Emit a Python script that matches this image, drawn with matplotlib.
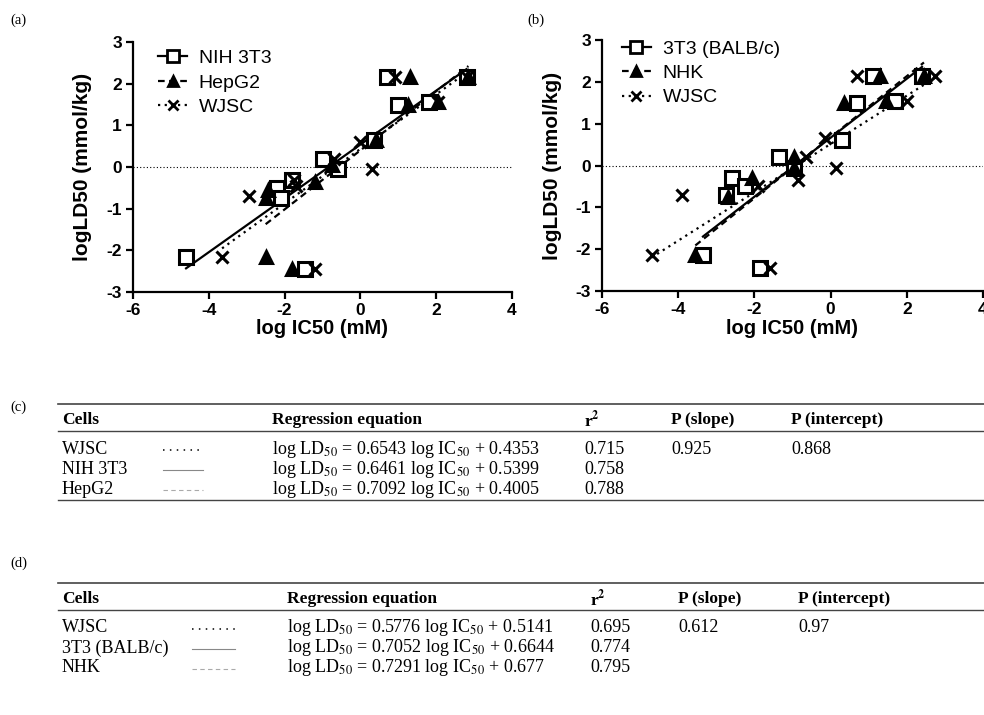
import numpy as np
import matplotlib
matplotlib.use('Agg')
import matplotlib.pyplot as plt
from matplotlib.lines import Line2D

plt.rcParams['font.family'] = 'Liberation Sans'
plt.rcParams['mathtext.fontset'] = 'stix'
plt.rcParams['axes.unicode_minus'] = False

# ---- panel (a) data: log IC50 (mM) vs log LD50 (mmol/kg)
nih_x = [-4.6, -2.2, -2.1, -1.8, -1.45, -1.0, -0.6, 0.35, 0.7, 1.0, 1.8, 2.8]
nih_y = [-2.15, -0.5, -0.75, -0.3, -2.45, 0.2, -0.05, 0.65, 2.15, 1.5, 1.55, 2.15]
hep_x = [-2.5, -2.45, -2.5, -1.8, -1.2, -0.75, 0.4, 1.25, 1.3, 2.05, 2.85]
hep_y = [-0.75, -0.55, -2.15, -2.45, -0.35, 0.05, 0.65, 1.5, 2.15, 1.55, 2.15]
wja_x = [-3.65, -2.95, -1.75, -1.7, -1.2, -0.7, 0.0, 0.3, 0.9, 2.05, 2.8]
wja_y = [-2.15, -0.7, -0.3, -0.45, -2.45, 0.2, 0.6, -0.05, 2.15, 1.55, 2.15]

# ---- panel (b) data
balb_x = [-3.35, -2.75, -2.6, -2.25, -1.85, -1.35, -0.95, 0.3, 0.7, 1.1, 1.7, 2.4]
balb_y = [-2.15, -0.7, -0.3, -0.5, -2.45, 0.2, -0.05, 0.6, 1.5, 2.15, 1.55, 2.15]
nhk_x = [-3.55, -2.7, -2.05, -0.95, -0.95, 0.35, 1.3, 1.45, 2.45]
nhk_y = [-2.15, -0.75, -0.3, 0.2, -0.05, 1.5, 2.15, 1.55, 2.15]
wjb_x = [-4.7, -3.9, -1.9, -1.6, -0.85, -0.65, -0.15, 0.15, 0.7, 2.0, 2.75]
wjb_y = [-2.15, -0.7, -0.5, -2.45, -0.35, 0.2, 0.65, -0.05, 2.15, 1.55, 2.15]

# ---- regression results (tables c and d)
cells_c = ['WJSC', 'NIH 3T3', 'HepG2']
slope_c = [0.6543, 0.6461, 0.7092]
icpt_c = ['0.4353', '0.5399', '0.4005']
r2_c = ['0.715', '0.758', '0.788']
pslope_c = '0.925'
picpt_c = '0.868'

cells_d = ['WJSC', '3T3 (BALB/c)', 'NHK']
slope_d = [0.5776, 0.7052, 0.7291]
icpt_d = ['0.5141', '0.6644', '0.677']
r2_d = ['0.695', '0.774', '0.795']
pslope_d = '0.612'
picpt_d = '0.97'

DASH = (0, (3, 2))
DOT = (0, (1, 2))

fig = plt.figure(figsize=(9.84, 7.15), dpi=100)


def panel(ax, series, legend_xy):
    ax.axhline(0, color='black', lw=0.8, ls=(0, (1, 2)), zorder=0)
    handles = []
    for xs, ys, sl, ic, name, mk, ls, mfc, ms in series:
        xs = np.array(xs)
        ax.plot(xs, ys, ls='none', marker=mk, ms=ms, mfc=mfc, mec='black',
                mew=2.2, color='black', zorder=3)
        xl = np.array([xs.min(), xs.max()])
        ax.plot(xl, sl * xl + float(ic), color='black', lw=1.6, ls=ls, zorder=2)
        handles.append(Line2D([], [], color='black', lw=1.6, ls=ls, marker=mk,
                              ms=ms * 0.85, mfc=mfc, mec='black', mew=2.0, label=name))
    ax.set_xlim(-6, 4)
    ax.set_ylim(-3, 3)
    ax.set_xticks([-6, -4, -2, 0, 2, 4])
    ax.set_yticks([-3, -2, -1, 0, 1, 2, 3])
    for s in ['top', 'right']:
        ax.spines[s].set_visible(False)
    for s in ['left', 'bottom']:
        ax.spines[s].set_linewidth(1.6)
    ax.tick_params(width=1.6, length=5, pad=3, labelsize=12.5)
    for lab in ax.get_xticklabels() + ax.get_yticklabels():
        lab.set_fontweight('bold')
    ax.set_xlabel('log IC50 (mM)', fontsize=14.5, fontweight='bold', labelpad=1)
    ax.set_ylabel('logLD50 (mmol/kg)', fontsize=15, fontweight='bold', labelpad=10)
    ax.legend(handles=handles, loc='upper left', bbox_to_anchor=legend_xy,
              frameon=False, fontsize=14, handlelength=1.5, handletextpad=0.6,
              labelspacing=0.35, borderpad=0, borderaxespad=0)
    ax.patch.set_visible(False)


ax_a = fig.add_axes([133 / 984, 1 - 292 / 715, 379 / 984, 250 / 715])
panel(ax_a, [
    (nih_x, nih_y, slope_c[1], icpt_c[1], 'NIH 3T3', 's', '-', 'white', 10),
    (hep_x, hep_y, slope_c[2], icpt_c[2], 'HepG2', '^', DASH, 'black', 9),
    (wja_x, wja_y, slope_c[0], icpt_c[0], 'WJSC', 'x', DOT, 'black', 9),
], (0.066, 0.97))

ax_b = fig.add_axes([602 / 984, 1 - 291 / 715, 381 / 984, 251 / 715])
panel(ax_b, [
    (balb_x, balb_y, slope_d[1], icpt_d[1], '3T3 (BALB/c)', 's', '-', 'white', 10),
    (nhk_x, nhk_y, slope_d[2], icpt_d[2], 'NHK', '^', DASH, 'black', 9),
    (wjb_x, wjb_y, slope_d[0], icpt_d[0], 'WJSC', 'x', DOT, 'black', 9),
], (0.052, 1.0))

# ---- tables drawn in pixel coordinates
tab = fig.add_axes([0, 0, 1, 1], zorder=-1)
tab.set_xlim(0, 984)
tab.set_ylim(715, 0)
tab.axis('off')

serif = 'Liberation Serif'
tab.text(10, 20, '(a)', fontsize=10.5, family=serif, va='center')
tab.text(527, 20, '(b)', fontsize=10.5, family=serif, va='center')


def table(y0, label, label_y, cells, slopes, icpts, r2s, psl, pic, cols, samp):
    tab.text(10, label_y, label, fontsize=10.5, family=serif, va='center')
    tab.plot([58, 984], [y0, y0], color='#444444', lw=1.2)
    hy = y0 + 16
    heads = ['Cells', 'Regression equation', r'r$^{\mathbf{2}}$', 'P (slope)', 'P (intercept)']
    for hx, h in zip([62] + cols, heads):
        tab.text(hx, hy, h, fontsize=12.5, family=serif, fontweight='bold', va='center')
    tab.plot([58, 984], [hy + 11, hy + 11], color='#444444', lw=1.0)
    styles = [((0, (1, 3.5)), 'black', 1.1), ('-', '#888888', 0.8),
              ((0, (4, 3)), '#aaaaaa', 0.8)]
    for i, c in enumerate(cells):
        ry = hy + 29 + 20 * i
        tab.text(62, ry, c, fontsize=13, family=serif, va='center')
        ls, col, lw = styles[i]
        tab.plot(samp, [ry + 1, ry + 1], ls=ls, color=col, lw=lw)
        eq = r'log LD$_{50}$ = %s log IC$_{50}$ + %s' % (('%.4f' % slopes[i]), icpts[i])
        tab.text(cols[0], ry, eq, fontsize=13, family=serif, va='center')
        tab.text(cols[1], ry, r2s[i], fontsize=13, family=serif, va='center')
    ry0 = hy + 29
    tab.text(cols[2], ry0, psl, fontsize=13, family=serif, va='center')
    tab.text(cols[3], ry0, pic, fontsize=13, family=serif, va='center')
    return hy + 29 + 40


end_c = table(404, '(c)', 407, cells_c, slope_c, icpt_c, r2_c,
              pslope_c, picpt_c, [272, 584, 671, 791], [163, 203])
tab.plot([58, 984], [end_c + 11, end_c + 11], color='#444444', lw=1.0)
table(583, '(d)', 563, cells_d, slope_d, icpt_d, r2_d, pslope_d, picpt_d,
      [287, 590, 678, 798], [192, 235])

fig.savefig('out.png', dpi=100)
